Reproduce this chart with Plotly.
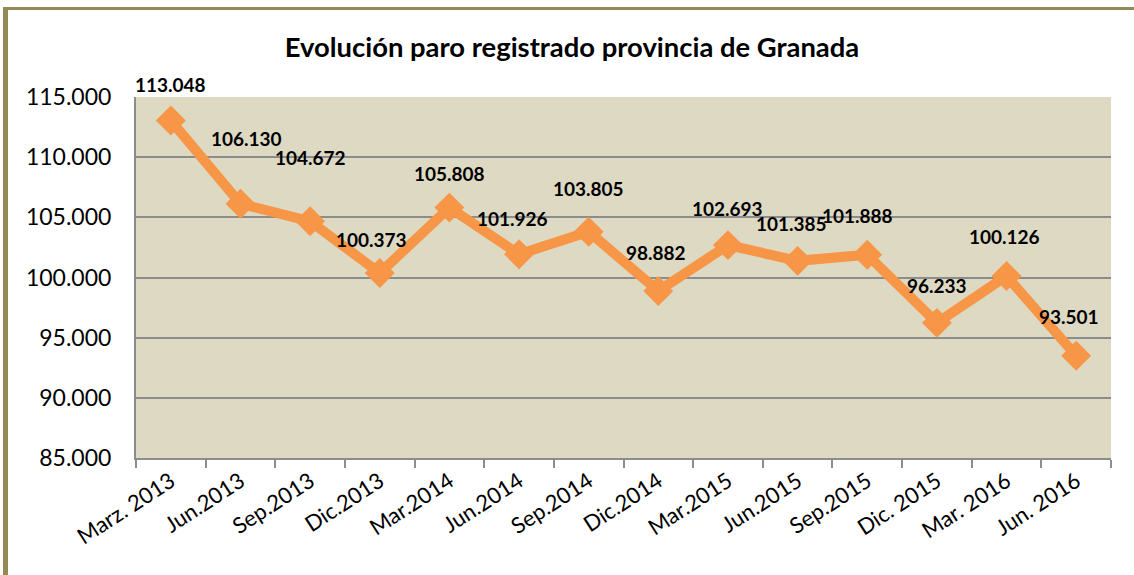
import plotly.graph_objects as go

categories = ["Marz. 2013", "Jun.2013", "Sep.2013", "Dic.2013", "Mar.2014", "Jun.2014",
              "Sep.2014", "Dic.2014", "Mar.2015", "Jun.2015", "Sep.2015", "Dic. 2015",
              "Mar. 2016", "Jun. 2016"]
values = [113048, 106130, 104672, 100373, 105808, 101926, 103805, 98882,
          102693, 101385, 101888, 96233, 100126, 93501]
labels = ["113.048", "106.130", "104.672", "100.373", "105.808", "101.926", "103.805",
          "98.882", "102.693", "101.385", "101.888", "96.233", "100.126", "93.501"]
label_dx = [0, 6, 0, -8, 0, -7, 0, -2, 0, -6, -10, 0, -2, -7]
label_dy = [36, 65, 64, 34, 34, 36, 43, 38, 37, 37, 39, 37, 39, 39]
y_ticks = [85000, 90000, 95000, 100000, 105000, 110000, 115000]
y_tick_text = ["85.000", "90.000", "95.000", "100.000", "105.000", "110.000", "115.000"]

W, H = 1134, 575
L, R, T, B = 136, 23, 97, 117
pw, ph = W - L - R, H - T - B

orange = "#F79646"
fig = go.Figure()
fig.add_trace(go.Scatter(
    x=categories, y=values, mode="lines+markers",
    line=dict(color=orange, width=10),
    marker=dict(symbol="diamond", size=23, color=orange),
    hoverinfo="skip", showlegend=False))

annotations = []
for c, v, t, dx, dy in zip(categories, values, labels, label_dx, label_dy):
    annotations.append(dict(x=c, y=v, text=t, showarrow=False, xshift=dx, yshift=dy,
                            font=dict(family="Lato", size=19, color="black", weight="bold")))

def px_x(p):
    return (p - L) / pw

def px_y(p):
    return (H - B - p) / ph

border = "#948A54"
shapes = [
    dict(type="line", xref="paper", yref="paper", x0=px_x(3), x1=px_x(1134), y0=px_y(8.5), y1=px_y(8.5),
         line=dict(color=border, width=3)),
    dict(type="line", xref="paper", yref="paper", x0=px_x(5.5), x1=px_x(5.5), y0=px_y(7), y1=px_y(575),
         line=dict(color=border, width=5)),
]

fig.update_layout(
    width=W, height=H,
    margin=dict(l=L, r=R, t=T, b=B, autoexpand=False),
    paper_bgcolor="white", plot_bgcolor="#DDD9C3",
    title=dict(text="<b>Evolución paro registrado provincia de Granada</b>",
               x=572 / W, xanchor="center", y=1 - 47 / H, yanchor="middle",
               font=dict(family="Lato", size=27.4, color="black")),
    annotations=annotations, shapes=shapes,
    xaxis=dict(type="category", tickson="boundaries", ticks="outside", ticklen=8,
               tickcolor="#8C8C8C", tickwidth=2, showline=True, linecolor="#8C8C8C", linewidth=2,
               showgrid=False, tickangle=-33, range=[-0.5, 13.5],
               tickfont=dict(family="Lato", size=22, color="black")),
    yaxis=dict(range=[85000, 115000], tickvals=y_ticks, ticktext=y_tick_text,
               showgrid=True, gridcolor="#8C8C8C", gridwidth=2, showline=True,
               linecolor="#8C8C8C", linewidth=2, ticks="", zeroline=False,
               tickfont=dict(family="Lato", size=23, color="black"), ticklabelstandoff=18),
)

fig.write_html("out.html", config={"displayModeBar": False},
               post_script="document.body.style.margin='0';")
